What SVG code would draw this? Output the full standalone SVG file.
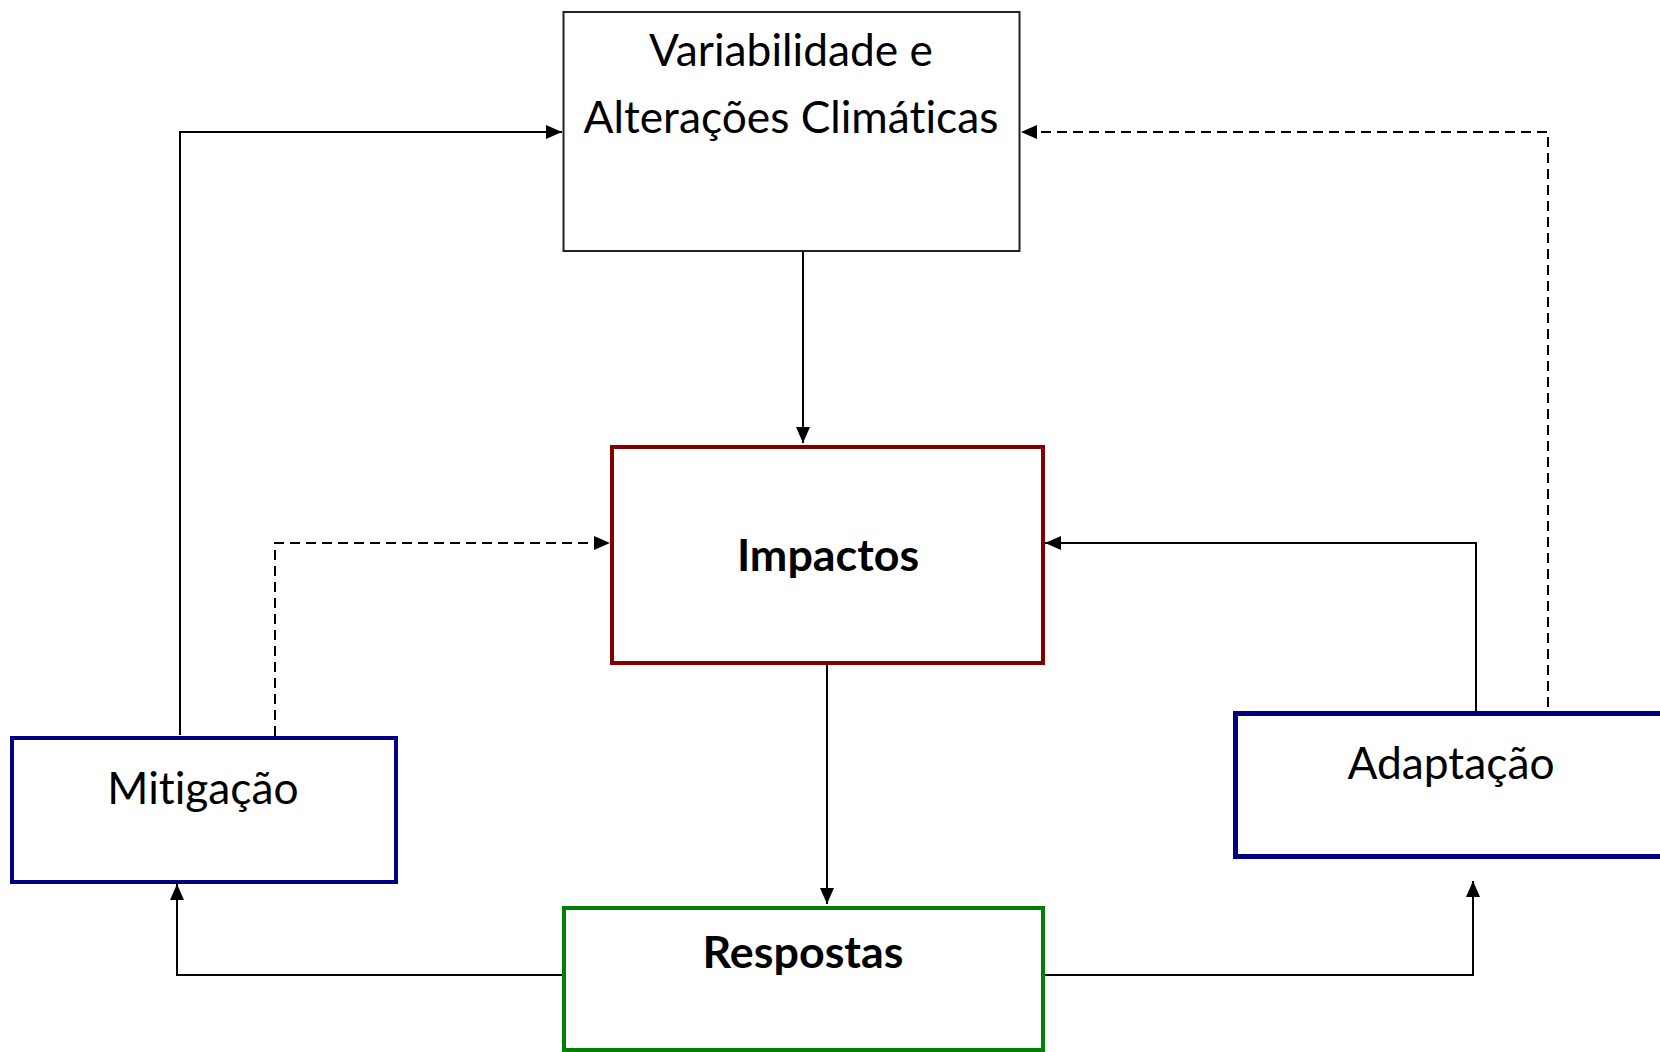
<svg xmlns="http://www.w3.org/2000/svg" width="1660" height="1052" viewBox="0 0 1660 1052">
<style>
.bg{fill:#ffffff}
.t{font-family:Lato,"Open Sans","Liberation Sans",sans-serif;font-size:44.3px;fill:#000;text-anchor:middle;font-variant-ligatures:none;font-feature-settings:"liga" 0}
.b{font-weight:bold;font-size:44.8px}
.c{fill:none;stroke:#000;stroke-width:2}
.d{stroke-dasharray:10 6}
</style>
<defs>
<marker id="ah" markerUnits="userSpaceOnUse" markerWidth="16" markerHeight="14" refX="16" refY="7" orient="auto">
<path d="M0,0 L16,7 L0,14 z" fill="#000"/>
</marker>
</defs>
<rect class="bg" x="0" y="0" width="1660" height="1052"/>
<g id="connectors">
<path class="c" d="M803,251 V443" marker-end="url(#ah)"/>
<path class="c" d="M827,663 V904" marker-end="url(#ah)"/>
<path class="c" d="M563,975 H177 V884" marker-end="url(#ah)"/>
<path class="c" d="M1044,975 H1473 V881" marker-end="url(#ah)"/>
<path class="c" d="M180,735 V132 H562" marker-end="url(#ah)"/>
<path class="c d" d="M275,736 V543 H610" marker-end="url(#ah)"/>
<path class="c" d="M1476,711 V543 H1045" marker-end="url(#ah)"/>
<path class="c d" d="M1548,707 V132 H1021" marker-end="url(#ah)"/>
</g>
<g id="clima">
<rect x="563.5" y="12" width="456" height="239" fill="#fff" stroke="#222" stroke-width="2"/>
<text class="t" x="791" y="66">Variabilidade e</text>
<text class="t" x="791" y="133">Alterações Climáticas</text>
</g>
<g id="impactos">
<rect x="612" y="447" width="431" height="216" fill="#fff" stroke="#800000" stroke-width="4"/>
<text class="t b" x="828" y="571">Impactos</text>
</g>
<g id="mitigacao">
<rect x="12" y="738" width="384" height="144" fill="#fff" stroke="#000080" stroke-width="4"/>
<text class="t" x="203" y="804">Mitigação</text>
</g>
<g id="adaptacao">
<rect x="1235.5" y="713.5" width="440" height="143" fill="#fff" stroke="#000080" stroke-width="5"/>
<text class="t" x="1451" y="779">Adaptação</text>
</g>
<g id="respostas">
<rect x="564" y="908" width="479" height="142" fill="#fff" stroke="#008000" stroke-width="4"/>
<text class="t b" x="803" y="968">Respostas</text>
</g>
</svg>
